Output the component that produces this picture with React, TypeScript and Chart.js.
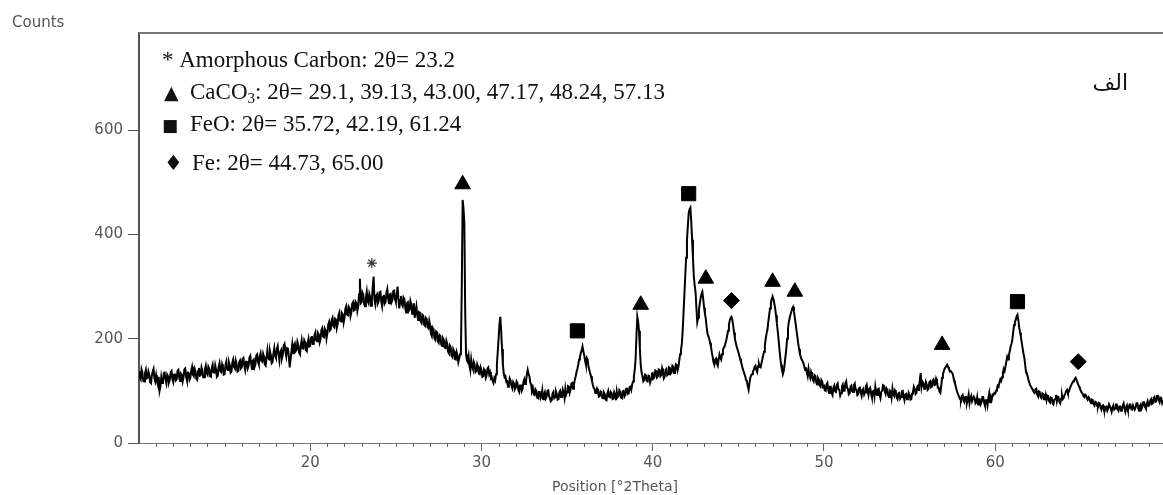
import { useEffect, useRef } from "react";
import { Chart, registerables } from "chart.js";

Chart.register(...registerables);

// ---- Data -------------------------------------------------------------
// XRD pattern, 2θ from 10° with a 0.05° step (one row per degree)
const X_START = 10;
const X_STEP = 0.05;
const COUNTS = [
  138, 126, 122, 141, 135, 119, 118, 133, 140, 124, 125, 137, 131, 117, 115, 129, 137, 142, 124, 118, // 10
  130, 119, 112, 127, 100, 108, 126, 115, 118, 134, 135, 121, 114, 131, 128, 116, 121, 136, 138, 123, // 11
  117, 131, 133, 120, 122, 138, 140, 125, 119, 133, 131, 118, 126, 141, 143, 127, 120, 135, 134, 121, // 12
  125, 139, 146, 131, 128, 142, 137, 123, 121, 138, 144, 129, 130, 145, 139, 126, 126, 141, 148, 134, // 13
  131, 146, 142, 128, 127, 144, 150, 136, 135, 149, 141, 127, 129, 146, 153, 138, 136, 151, 145, 131, // 14
  132, 149, 156, 141, 140, 155, 149, 135, 137, 154, 160, 146, 143, 158, 151, 137, 138, 155, 158, 143, // 15
  145, 161, 163, 148, 140, 156, 157, 143, 148, 164, 167, 152, 142, 158, 160, 146, 151, 168, 170, 155, // 16
  150, 166, 172, 158, 156, 171, 165, 150, 148, 165, 178, 163, 160, 176, 168, 153, 155, 172, 182, 167, // 17
  163, 180, 186, 171, 158, 174, 178, 163, 170, 187, 190, 175, 166, 182, 181, 166, 145, 160, 175, 189, // 18
  172, 188, 191, 176, 178, 194, 188, 173, 170, 186, 197, 182, 181, 197, 193, 178, 176, 192, 200, 185, // 19
  186, 202, 205, 190, 190, 207, 212, 197, 195, 211, 208, 193, 199, 216, 220, 204, 203, 219, 215, 200, // 20
  210, 227, 232, 216, 218, 236, 240, 224, 222, 238, 236, 220, 228, 245, 250, 234, 233, 249, 246, 231, // 21
  240, 257, 262, 246, 245, 261, 258, 243, 250, 267, 270, 254, 255, 271, 268, 253, 262, 285, 315, 268, // 22
  270, 288, 284, 266, 262, 279, 290, 272, 268, 286, 280, 263, 275, 300, 319, 275, 266, 282, 285, 268, // 23
  272, 289, 290, 271, 262, 280, 284, 267, 270, 288, 295, 277, 268, 285, 286, 270, 274, 291, 292, 276, // 24
  270, 284, 300, 276, 258, 274, 282, 265, 262, 279, 276, 259, 250, 268, 270, 253, 256, 272, 265, 248, // 25
  255, 268, 240, 252, 262, 245, 236, 251, 250, 233, 230, 246, 244, 227, 225, 240, 238, 222, 220, 234, // 26
  225, 209, 205, 221, 218, 201, 198, 214, 212, 195, 192, 207, 205, 189, 186, 201, 198, 183, 182, 196, // 27
  190, 175, 172, 187, 184, 168, 165, 180, 176, 161, 160, 174, 168, 155, 162, 170, 175, 300, 466, 450, // 28
  420, 250, 170, 158, 155, 166, 148, 139, 160, 147, 142, 155, 150, 136, 138, 151, 146, 133, 132, 145, // 29
  140, 127, 128, 141, 138, 125, 130, 143, 145, 132, 136, 124, 126, 119, 115, 124, 120, 132, 150, 175, // 30
  200, 228, 242, 215, 180, 150, 134, 126, 128, 117, 118, 108, 112, 124, 120, 110, 105, 117, 114, 103, // 31
  106, 118, 115, 102, 98, 110, 112, 100, 104, 117, 122, 113, 118, 131, 140, 132, 128, 116, 112, 100, // 32
  105, 93, 92, 103, 100, 87, 86, 98, 98, 86, 90, 101, 84, 92, 97, 85, 88, 100, 101, 90, // 33
  90, 80, 82, 95, 98, 86, 88, 99, 94, 83, 84, 97, 100, 88, 90, 102, 96, 86, 104, 93, // 34
  98, 109, 108, 96, 102, 114, 115, 104, 112, 121, 128, 136, 142, 150, 160, 166, 172, 178, 185, 176, // 35
  168, 158, 150, 163, 160, 146, 140, 133, 128, 119, 112, 106, 104, 96, 96, 104, 100, 89, 90, 99, // 36
  98, 87, 86, 97, 94, 83, 82, 95, 100, 89, 88, 98, 96, 84, 85, 97, 92, 82, 99, 88, // 37
  90, 101, 98, 87, 86, 99, 100, 89, 92, 104, 104, 94, 95, 107, 108, 102, 112, 118, 127, 140, // 38
  160, 205, 242, 232, 215, 180, 150, 135, 128, 118, 120, 131, 130, 119, 118, 129, 128, 116, 122, 133, // 39
  134, 124, 126, 139, 138, 126, 128, 141, 140, 128, 130, 143, 136, 124, 127, 140, 142, 130, 132, 145, // 40
  144, 133, 135, 148, 146, 134, 138, 151, 150, 139, 145, 158, 170, 178, 190, 215, 250, 285, 320, 355, // 41
  389, 415, 440, 448, 451, 425, 390, 355, 320, 302, 290, 260, 232, 240, 255, 268, 278, 286, 290, 276, // 42
  260, 248, 238, 222, 210, 205, 200, 192, 185, 174, 165, 155, 150, 160, 162, 152, 148, 160, 170, 164, // 43
  160, 170, 178, 183, 185, 191, 198, 206, 215, 226, 235, 240, 242, 236, 225, 212, 200, 192, 185, 180, // 44
  175, 168, 162, 156, 150, 143, 138, 133, 128, 121, 118, 109, 102, 115, 125, 130, 132, 137, 140, 146, // 45
  148, 140, 136, 147, 152, 146, 145, 153, 160, 168, 175, 188, 200, 210, 217, 232, 245, 258, 268, 276, // 46
  281, 276, 268, 258, 245, 230, 215, 198, 180, 163, 150, 140, 132, 138, 150, 165, 180, 200, 220, 232, // 47
  240, 247, 252, 258, 261, 252, 240, 228, 215, 203, 190, 180, 170, 164, 160, 157, 153, 147, 140, 145, // 48
  135, 128, 142, 131, 125, 136, 130, 121, 118, 130, 128, 116, 112, 125, 122, 110, 108, 121, 118, 106, // 49
  112, 101, 100, 112, 115, 102, 96, 108, 108, 96, 92, 106, 110, 99, 98, 111, 114, 103, 102, 91, // 50
  96, 108, 112, 100, 100, 114, 118, 105, 104, 93, 95, 108, 110, 99, 98, 111, 114, 102, 102, 92, // 51
  94, 105, 108, 96, 90, 102, 104, 93, 97, 109, 112, 100, 92, 104, 106, 95, 88, 99, 100, 89, // 52
  108, 97, 92, 103, 104, 92, 86, 98, 100, 111, 110, 99, 94, 105, 102, 91, 88, 100, 98, 87, // 53
  104, 93, 90, 101, 98, 87, 84, 95, 96, 85, 88, 99, 100, 89, 82, 93, 94, 84, 86, 96, // 54
  92, 83, 84, 95, 98, 108, 104, 94, 96, 108, 110, 100, 122, 134, 108, 118, 115, 104, 106, 117, // 55
  112, 102, 104, 116, 118, 107, 108, 120, 122, 111, 112, 123, 118, 106, 106, 98, 96, 110, 125, 132, // 56
  138, 143, 145, 148, 150, 146, 142, 139, 138, 136, 134, 128, 120, 114, 108, 101, 96, 92, 88, 84, // 57
  82, 90, 92, 81, 78, 88, 88, 77, 84, 93, 76, 85, 90, 80, 80, 89, 86, 76, 78, 88, // 58
  74, 84, 84, 74, 78, 88, 88, 78, 72, 82, 82, 72, 86, 95, 78, 88, 84, 93, 92, 96, // 59
  95, 100, 104, 110, 108, 116, 122, 119, 126, 134, 142, 138, 146, 156, 165, 160, 168, 176, 184, 190, // 60
  198, 212, 226, 232, 236, 243, 246, 236, 222, 212, 204, 193, 182, 172, 164, 150, 136, 132, 128, 120, // 61
  115, 110, 108, 104, 102, 98, 96, 103, 104, 93, 90, 99, 98, 88, 86, 95, 94, 84, 84, 92, // 62
  82, 91, 90, 80, 78, 87, 86, 76, 74, 83, 84, 92, 80, 89, 88, 79, 76, 85, 92, 84, // 63
  86, 92, 95, 100, 102, 96, 98, 104, 108, 112, 115, 118, 120, 123, 125, 121, 116, 112, 108, 104, // 64
  100, 97, 95, 90, 88, 93, 92, 86, 83, 88, 86, 80, 76, 83, 82, 75, 72, 79, 78, 71, // 65
  70, 77, 76, 68, 64, 71, 72, 64, 62, 69, 70, 62, 66, 74, 74, 66, 60, 68, 72, 64, // 66
  66, 74, 74, 65, 62, 70, 70, 62, 64, 72, 76, 67, 60, 68, 72, 64, 66, 74, 74, 65, // 67
  64, 72, 72, 64, 68, 76, 76, 67, 62, 71, 74, 66, 70, 78, 78, 69, 66, 75, 80, 71, // 68
  72, 81, 84, 75, 76, 86, 88, 79, 80, 90, 92, 82, 78, 87, 86, 77, 82, 91, 90, 81, // 69
  88, // 70
];

// Phase markers drawn above the peaks
const AMORPHOUS_X = [23.6];
const AMORPHOUS_Y = [345];
const CACO3_X = [28.9, 39.3, 43.1, 47.0, 48.3, 56.9];
const CACO3_Y = [496, 265, 315, 309, 290, 188];
const FEO_X = [35.6, 42.1, 61.3];
const FEO_Y = [215, 478, 271];
const FE_X = [44.6, 64.85];
const FE_Y = [273, 156];

// Axes
const X_MIN = 10;
const X_MAX = 69.8;
const Y_MIN = 0;
const Y_MAX = 786;
const X_TICKS = [20, 30, 40, 50, 60];
const Y_TICKS = [0, 200, 400, 600];

// Texts
const Y_TITLE = "Counts";
const X_TITLE = "Position [°2Theta]";
const PANEL_LABEL = "الف";
const LEGEND_AMORPHOUS = "* Amorphous Carbon: 2θ= 23.2";
const LEGEND_CACO3_A = "CaCO";
const LEGEND_CACO3_SUB = "3";
const LEGEND_CACO3_B = ": 2θ= 29.1, 39.13, 43.00, 47.17, 48.24, 57.13";
const LEGEND_FEO = "FeO: 2θ= 35.72, 42.19, 61.24";
const LEGEND_FE = "Fe: 2θ= 44.73, 65.00";

const toPoints = (xs: number[], ys: number[]) => xs.map((x, i) => ({ x, y: ys[i] }));

const decorPlugin = {
  id: "decor",
  afterDraw(chart: any) {
    const ctx = chart.ctx as CanvasRenderingContext2D;
    const { left, right, top, bottom } = chart.chartArea;
    const xs = chart.scales.x;
    ctx.save();
    // top frame line
    ctx.strokeStyle = "#777";
    ctx.lineWidth = 2;
    ctx.beginPath();
    ctx.moveTo(left, top);
    ctx.lineTo(right, top);
    ctx.stroke();
    // minor ticks every 1 degree
    ctx.strokeStyle = "#666";
    ctx.lineWidth = 1;
    ctx.beginPath();
    for (let v = Math.ceil(X_MIN) + 1; v < X_MAX; v++) {
      if (v % 10 === 0) continue;
      const px = Math.round(xs.getPixelForValue(v)) + 0.5;
      ctx.moveTo(px, bottom);
      ctx.lineTo(px, bottom + 4);
    }
    ctx.stroke();

    // axis titles
    ctx.fillStyle = "#555";
    ctx.font = '15px "DejaVu Sans"';
    ctx.textBaseline = "middle";
    ctx.textAlign = "left";
    ctx.fillText(Y_TITLE, 12, 23);
    ctx.textAlign = "center";
    ctx.font = '14px "DejaVu Sans"';
    ctx.fillText(X_TITLE, 615, 487);

    // legend annotation
    ctx.fillStyle = "#111";
    ctx.textAlign = "left";
    ctx.textBaseline = "alphabetic";
    const serif = '23px "Liberation Serif", "Times New Roman", serif';
    ctx.font = serif;
    ctx.fillText(LEGEND_AMORPHOUS, 162, 67);

    ctx.font = '19px "DejaVu Sans"';
    ctx.fillText("▲", 164, 99);
    ctx.font = serif;
    let x = 190;
    ctx.fillText(LEGEND_CACO3_A, x, 99);
    x += ctx.measureText(LEGEND_CACO3_A).width;
    ctx.font = '15px "Liberation Serif", serif';
    ctx.fillText(LEGEND_CACO3_SUB, x, 103);
    x += ctx.measureText(LEGEND_CACO3_SUB).width;
    ctx.font = serif;
    ctx.fillText(LEGEND_CACO3_B, x, 99);

    ctx.font = '17px "DejaVu Sans"';
    ctx.fillText("■", 162, 131);
    ctx.font = serif;
    ctx.fillText(LEGEND_FEO, 190, 131);

    ctx.font = '21px "DejaVu Sans"';
    ctx.fillText("♦", 164, 170);
    ctx.font = serif;
    ctx.fillText(LEGEND_FE, 192, 170);

    // panel label
    ctx.font = '22px "DejaVu Sans"';
    ctx.textAlign = "right";
    ctx.fillText(PANEL_LABEL, 1128, 90);
    ctx.restore();
  },
};

export default function App() {
  const ref = useRef<HTMLCanvasElement | null>(null);

  useEffect(() => {
    if (!ref.current) return;
    const spectrum = COUNTS.map((y, i) => ({ x: +(X_START + i * X_STEP).toFixed(2), y }));
    const tickFont = { family: "DejaVu Sans", size: 15 };
    const chart = new Chart(ref.current, {
      type: "scatter",
      data: {
        datasets: [
          {
            data: spectrum,
            showLine: true,
            borderColor: "#000",
            borderWidth: 2,
            pointRadius: 0,
            tension: 0,
          },
          {
            data: toPoints(AMORPHOUS_X, AMORPHOUS_Y),
            pointStyle: "star",
            pointRadius: 5,
            borderColor: "#333",
            borderWidth: 1.2,
            backgroundColor: "#333",
          },
          {
            data: toPoints(CACO3_X, CACO3_Y),
            pointStyle: "triangle",
            pointRadius: 9,
            borderColor: "#000",
            backgroundColor: "#000",
            borderWidth: 1,
          },
          {
            data: toPoints(FEO_X, FEO_Y),
            pointStyle: "rect",
            pointRadius: 10,
            borderColor: "#000",
            backgroundColor: "#000",
            borderWidth: 1,
          },
          {
            data: toPoints(FE_X, FE_Y),
            pointStyle: "rectRot",
            pointRadius: 8,
            borderColor: "#000",
            backgroundColor: "#000",
            borderWidth: 1,
          },
        ],
      },
      options: {
        animation: false,
        responsive: false,
        devicePixelRatio: 1,
        events: [],
        layout: { autoPadding: false, padding: { top: 33, left: 0, right: 0, bottom: 0 } },
        plugins: { legend: { display: false }, tooltip: { enabled: false } },
        scales: {
          x: {
            type: "linear",
            min: X_MIN,
            max: X_MAX,
            afterBuildTicks: (s: any) => {
              s.ticks = X_TICKS.map((v) => ({ value: v }));
            },
            afterFit: (s: any) => {
              s.height = 52;
              s.paddingLeft = 0;
              s.paddingRight = 0;
            },
            ticks: { font: tickFont, color: "#555", padding: 3, maxRotation: 0, autoSkip: false },
            grid: { drawOnChartArea: false, drawTicks: true, tickLength: 8, tickColor: "#666" },
            border: { display: true, color: "#777", width: 1 },
          },
          y: {
            type: "linear",
            min: Y_MIN,
            max: Y_MAX,
            afterBuildTicks: (s: any) => {
              s.ticks = Y_TICKS.map((v) => ({ value: v }));
            },
            afterFit: (s: any) => {
              s.width = 139;
              s.paddingTop = 0;
              s.paddingBottom = 0;
            },
            ticks: { font: tickFont, color: "#555", padding: 5 },
            grid: { drawOnChartArea: false, drawTicks: true, tickLength: 11, tickColor: "#555" },
            border: { display: true, color: "#555", width: 2 },
          },
        },
      },
      plugins: [decorPlugin],
    } as any);
    return () => chart.destroy();
  }, []);

  return (
    <div style={{ position: "fixed", left: 0, top: 0, width: 1163, height: 495, background: "#fff" }}>
      <canvas ref={ref} width={1163} height={495} style={{ display: "block" }} />
    </div>
  );
}
